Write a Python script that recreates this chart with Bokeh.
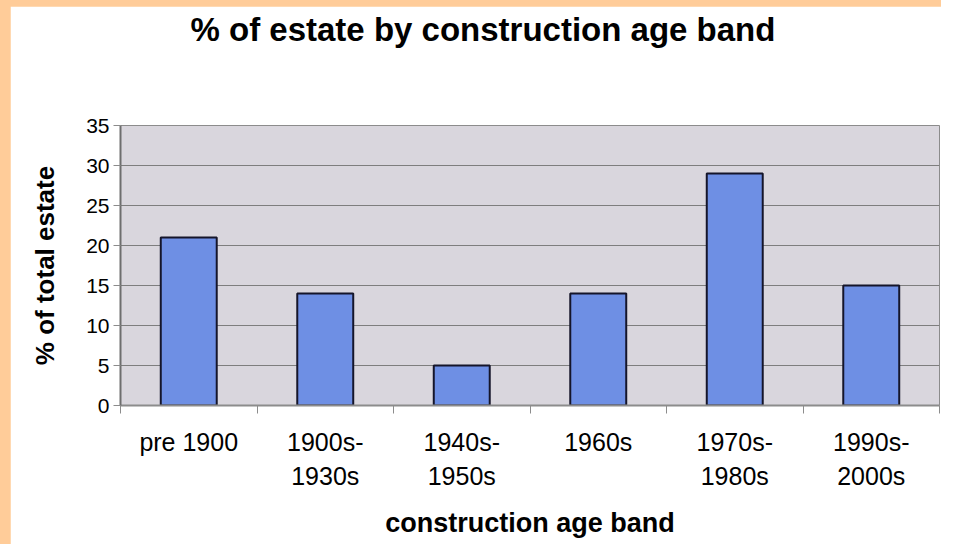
from bokeh.plotting import figure
from bokeh.models import Range1d, FixedTicker, Title
from bokeh.layouts import column
from bokeh.embed import file_html
from bokeh.resources import INLINE

# ---- data ----
categories = ["pre 1900", "1900s-\n1930s", "1940s-\n1950s", "1960s", "1970s-\n1980s", "1990s-\n2000s"]
values = [21, 14, 5, 14, 29, 15]
y_ticks = [0, 5, 10, 15, 20, 25, 30, 35]

centers = [i + 0.5 for i in range(len(categories))]
bounds = list(range(len(categories) + 1))

FONT = "Liberation Sans"

p = figure(width=931, height=538, output_backend="svg", toolbar_location=None,
           x_range=Range1d(0, len(categories)), y_range=Range1d(0, 35),
           min_border_left=110, min_border_right=2, min_border_top=0, min_border_bottom=139,
           title=None)

p.background_fill_color = "#D9D6DD"
p.border_fill_color = "white"
p.outline_line_color = "#8C8C8C"
p.outline_line_width = 1

p.vbar(x=centers, top=values, width=0.41, bottom=0,
       fill_color="#6E8FE4", line_color="#15152A", line_width=2)

# spacer between frame and title (nearest the frame)
spacer = Title(text=" ", text_font_size="1px", standoff=73)
p.add_layout(spacer, "above")
# main title (outer)
main_title = Title(text="% of estate by construction age band", text_font=FONT,
                   text_font_size="33px", text_font_style="bold", text_color="black",
                   align="left", offset=70, standoff=4)
p.add_layout(main_title, "above")

# x axis
xa = p.xaxis[0]
xa.ticker = FixedTicker(ticks=centers, minor_ticks=bounds)
xa.major_label_overrides = {c: lab for c, lab in zip(centers, categories)}
xa.major_tick_line_color = None
xa.major_tick_out = 0
xa.major_tick_in = 0
xa.minor_tick_out = 8
xa.minor_tick_in = 0
xa.minor_tick_line_color = "#8C8C8C"
xa.axis_line_color = "#8C8C8C"
xa.axis_line_width = 2
xa.major_label_standoff = 14
xa.major_label_text_font = FONT
xa.major_label_text_font_size = "25px"
xa.major_label_text_color = "black"
xa.major_label_text_line_height = 1.24
xa.axis_label = "construction age band"
xa.axis_label_text_font = FONT
xa.axis_label_text_font_size = "27px"
xa.axis_label_text_font_style = "bold"
xa.axis_label_text_color = "black"
xa.axis_label_standoff = 15

# y axis
ya = p.yaxis[0]
ya.ticker = FixedTicker(ticks=y_ticks)
ya.major_tick_out = 7
ya.major_tick_in = 0
ya.minor_tick_line_color = None
ya.major_tick_line_color = "#8C8C8C"
ya.axis_line_color = "#6E6E6E"
ya.axis_line_width = 2
ya.major_label_standoff = 4
ya.major_label_text_font = FONT
ya.major_label_text_font_size = "21px"
ya.major_label_text_color = "black"
ya.axis_label = "% of total estate"
ya.axis_label_text_font = FONT
ya.axis_label_text_font_size = "26px"
ya.axis_label_text_font_style = "bold"
ya.axis_label_text_color = "black"
ya.axis_label_standoff = 23

p.xgrid.grid_line_color = None
p.ygrid.ticker = FixedTicker(ticks=y_ticks)
p.ygrid.grid_line_color = "#7E7E7E"
p.ygrid.grid_line_width = 1

layout = column(p, styles={"background-color": "#FFCC99", "padding-left": "10px", "padding-top": "6px"})

open("out.html", "w").write(file_html(layout, INLINE))
